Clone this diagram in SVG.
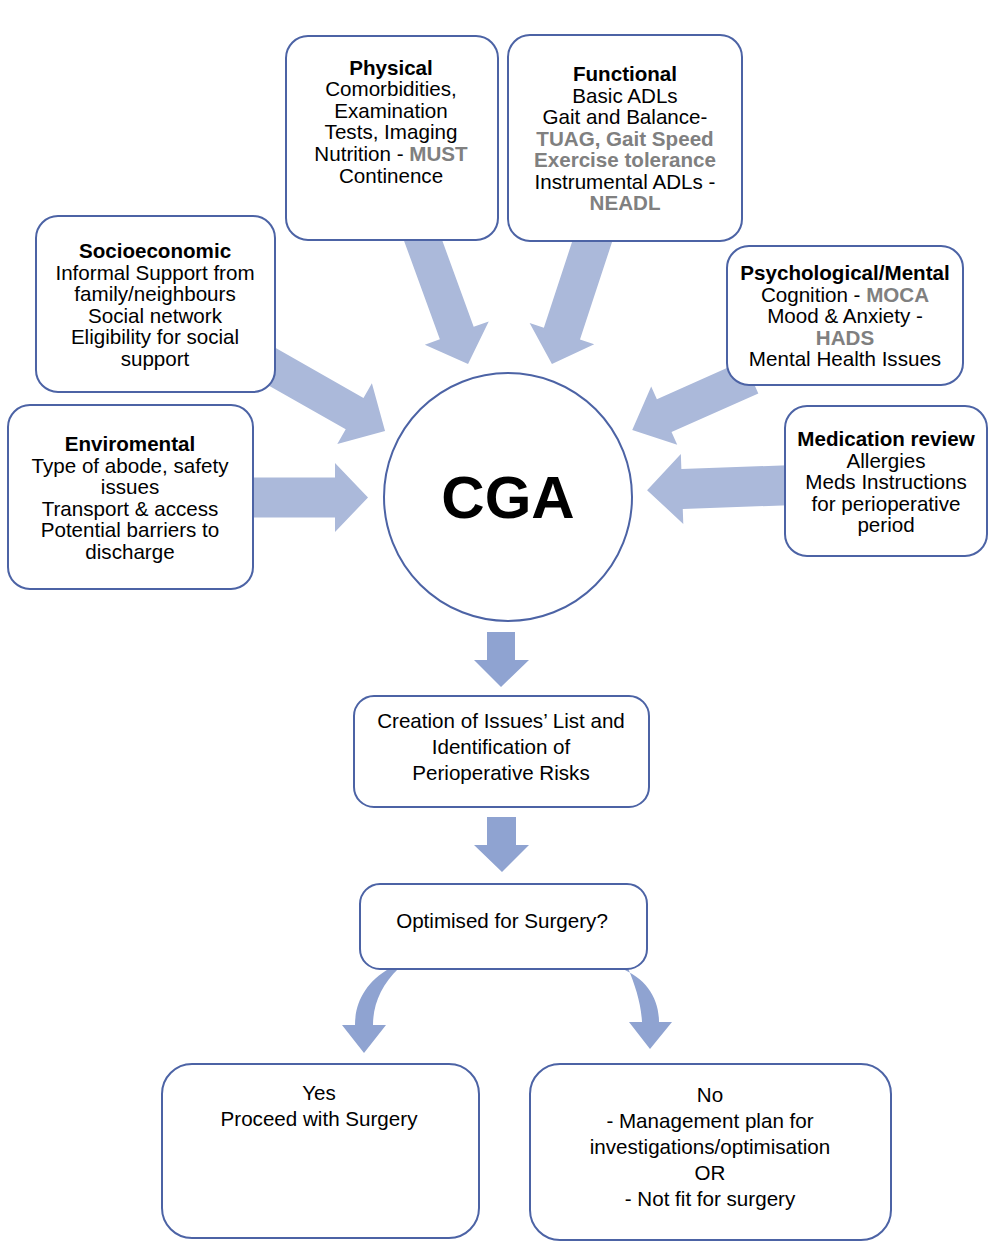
<svg xmlns="http://www.w3.org/2000/svg" width="1000" height="1256" viewBox="0 0 1000 1256">
<style>
.box{fill:#fff;stroke:#4c63a5;stroke-width:2}
.t{font-family:"Liberation Sans",Arial,sans-serif;font-size:20.6px;fill:#000;text-anchor:middle}
.b{font-weight:bold}
.g{font-weight:bold;fill:#808080}
.a1{fill:#abb9da}
.a2{fill:#8fa3d1}
</style>
<rect width="1000" height="1256" fill="#fff"/>
<g id="connectors">
  <polygon class="a1" transform="translate(420,232) rotate(70)" points="0,-18 107.5,-18 107.5,-34 140.5,0 107.5,34 107.5,18 0,18"/>
  <polygon class="a1" transform="translate(595,233) rotate(108.2)" points="0,-19 105.9,-19 105.9,-34 137.9,0 105.9,34 105.9,19 0,19"/>
  <polygon class="a1" transform="translate(262,361) rotate(29.6)" points="0,-18 106.5,-18 106.5,-35 141.5,0 106.5,35 106.5,18 0,18"/>
  <polygon class="a1" transform="translate(245,497.5) rotate(0)" points="0,-20 90,-20 90,-34.5 123,0 90,34.5 90,20 0,20"/>
  <polygon class="a1" transform="translate(751,377) rotate(156)" points="0,-18 95,-18 95,-32 130,0 95,32 95,18 0,18"/>
  <polygon class="a1" transform="translate(795,485) rotate(178)" points="0,-20 113,-20 113,-35 148,0 113,35 113,20 0,20"/>
  <polygon class="a2" points="487,632 515,632 515,660 529,660 501,687 474,660 487,660"/>
  <polygon class="a2" points="487,817 516,817 516,845 529,845 502,872 474,845 487,845"/>
  <path class="a2" d="M390,968 C366,982 355,1002 355,1025 L342,1025 L364,1053 L386,1025 L373,1025 C373,1005 381,985 399,968 Z"/>
  <path class="a2" d="M620,968 C646,978 659,998 659,1022 L672,1022 L650,1049 L629,1022 L642,1022 C641,1003 635,985 628,968 Z"/>
</g>
<g id="cga">
  <circle class="box" cx="508" cy="497" r="124"/>
  <text class="t b" x="508" y="518" style="font-size:60px">CGA</text>
</g>
<g id="physical">
  <rect class="box" x="286" y="36" width="212" height="204" rx="22"/>
  <text class="t" x="391" y="74.5"><tspan class="b">Physical</tspan><tspan x="391" dy="21.6">Comorbidities,</tspan><tspan x="391" dy="21.6">Examination</tspan><tspan x="391" dy="21.6">Tests, Imaging</tspan><tspan x="391" dy="21.6">Nutrition - <tspan class="g">MUST</tspan></tspan><tspan x="391" dy="21.6">Continence</tspan></text>
</g>
<g id="functional">
  <rect class="box" x="508" y="35" width="234" height="206" rx="22"/>
  <text class="t" x="625" y="81"><tspan class="b">Functional</tspan><tspan x="625" dy="21.5">Basic ADLs</tspan><tspan x="625" dy="21.5">Gait and Balance-</tspan><tspan x="625" dy="21.5" class="g">TUAG, Gait Speed</tspan><tspan x="625" dy="21.5" class="g">Exercise tolerance</tspan><tspan x="625" dy="21.5">Instrumental ADLs -</tspan><tspan x="625" dy="21.5" class="g">NEADL</tspan></text>
</g>
<g id="socioeconomic">
  <rect class="box" x="36" y="216" width="239" height="176" rx="22"/>
  <text class="t" x="155" y="258"><tspan class="b">Socioeconomic</tspan><tspan x="155" dy="21.5">Informal Support from</tspan><tspan x="155" dy="21.5">family/neighbours</tspan><tspan x="155" dy="21.5">Social network</tspan><tspan x="155" dy="21.5">Eligibility for social</tspan><tspan x="155" dy="21.5">support</tspan></text>
</g>
<g id="enviromental">
  <rect class="box" x="8" y="405" width="245" height="184" rx="22"/>
  <text class="t" x="130" y="451"><tspan class="b">Enviromental</tspan><tspan x="130" dy="21.5">Type of abode, safety</tspan><tspan x="130" dy="21.5">issues</tspan><tspan x="130" dy="21.5">Transport &amp; access</tspan><tspan x="130" dy="21.5">Potential barriers to</tspan><tspan x="130" dy="21.5">discharge</tspan></text>
</g>
<g id="psychological">
  <rect class="box" x="727" y="246" width="236" height="139" rx="22"/>
  <text class="t" x="845" y="280"><tspan class="b">Psychological/Mental</tspan><tspan x="845" dy="21.5">Cognition - <tspan class="g">MOCA</tspan></tspan><tspan x="845" dy="21.5">Mood &amp; Anxiety -</tspan><tspan x="845" dy="21.5" class="g">HADS</tspan><tspan x="845" dy="21.5">Mental Health Issues</tspan></text>
</g>
<g id="medication">
  <rect class="box" x="785" y="406" width="202" height="150" rx="22"/>
  <text class="t" x="886" y="446"><tspan class="b">Medication review</tspan><tspan x="886" dy="21.5">Allergies</tspan><tspan x="886" dy="21.5">Meds Instructions</tspan><tspan x="886" dy="21.5">for perioperative</tspan><tspan x="886" dy="21.5">period</tspan></text>
</g>
<g id="creation">
  <rect class="box" x="354" y="696" width="295" height="111" rx="20"/>
  <text class="t" x="501" y="728"><tspan>Creation of Issues’ List and</tspan><tspan x="501" dy="26">Identification of</tspan><tspan x="501" dy="26">Perioperative Risks</tspan></text>
</g>
<g id="optimised">
  <rect class="box" x="360" y="884" width="287" height="85" rx="20"/>
  <text class="t" x="502" y="928">Optimised for Surgery?</text>
</g>
<g id="yes">
  <rect class="box" x="162" y="1064" width="317" height="174" rx="30"/>
  <text class="t" x="319" y="1100"><tspan>Yes</tspan><tspan x="319" dy="26">Proceed with Surgery</tspan></text>
</g>
<g id="no">
  <rect class="box" x="530" y="1064" width="361" height="176" rx="30"/>
  <text class="t" x="710" y="1102"><tspan>No</tspan><tspan x="710" dy="26">- Management plan for</tspan><tspan x="710" dy="26">investigations/optimisation</tspan><tspan x="710" dy="26">OR</tspan><tspan x="710" dy="26">- Not fit for surgery</tspan></text>
</g>
</svg>
